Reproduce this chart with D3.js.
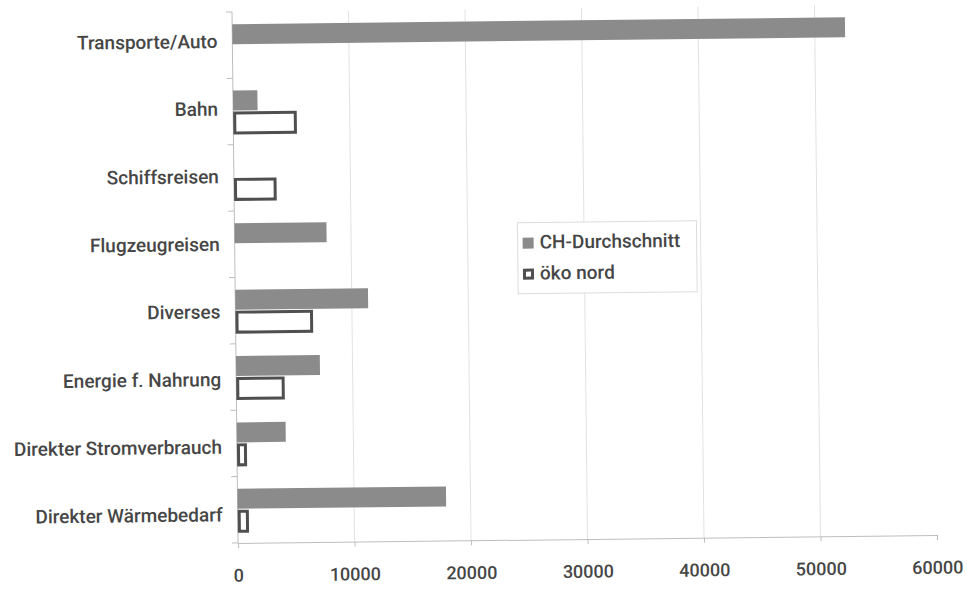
<!DOCTYPE html>
<html>
<head>
<meta charset="utf-8">
<script src="https://cdn.jsdelivr.net/npm/d3@7"></script>
<style>
  html, body { margin: 0; padding: 0; background: #fff; }
  svg { display: block; }
  text { font-family: Roboto, "Liberation Sans", Arial, sans-serif; font-weight: 500; fill: #464646; }
</style>
</head>
<body>
<script>
// ---- data ----
const categories = ["Transporte/Auto", "Bahn", "Schiffsreisen", "Flugzeugreisen", "Diverses", "Energie f. Nahrung", "Direkter Stromverbrauch", "Direkter Wärmebedarf"];
const seriesNames = ["CH-Durchschnitt", "öko nord"];
const chValues = [52600, 2100, 0, 7900, 11400, 7200, 4200, 17900];
const oekoValues = [0, 5200, 3400, 0, 6400, 3900, 600, 700];
const xTickValues = [0, 10000, 20000, 30000, 40000, 50000, 60000];

// ---- layout ----
const W = 967, H = 590;
const plotLeft = 235, plotTop = 8, plotW = 699, plotH = 531;
const grayFill = "#8b8b8b", boxStroke = "#4f4f4f";
const fontFam = "Roboto, 'Liberation Sans', Arial, sans-serif";

const svg = d3.select("body").append("svg").attr("width", W).attr("height", H);
const g = svg.append("g")
  .attr("transform", `rotate(-0.65, ${plotLeft + plotW / 2}, ${plotTop + plotH / 2})`);

const x = d3.scaleLinear().domain([0, 60000]).range([plotLeft, plotLeft + plotW]);
const y = d3.scaleBand().domain(categories).range([plotTop, plotTop + plotH]);
const yLabel = d3.scaleBand().domain(categories).range([plotTop - 4, plotTop + plotH + 6]);

// gridlines
g.append("g").selectAll("line").data(xTickValues.filter(v => v > 0 && v < 60000)).join("line")
  .attr("x1", d => x(d)).attr("x2", d => x(d))
  .attr("y1", plotTop).attr("y2", plotTop + plotH)
  .attr("stroke", "#e2e2e2").attr("stroke-width", 1);

// x axis
const xAxis = d3.axisBottom(x).tickValues(xTickValues).tickSize(5).tickSizeOuter(0).tickFormat(d3.format("d"));
const xg = g.append("g").attr("transform", `translate(0,${plotTop + plotH})`).call(xAxis);
xg.select(".domain").attr("stroke", "#bdbdbd");
xg.selectAll(".tick line").attr("stroke", "#bdbdbd");
xg.selectAll(".tick text").attr("y", 26).attr("font-size", 18).attr("fill", "#464646")
  .attr("font-family", fontFam).attr("font-weight", 500);

// y axis: line plus ticks at band boundaries
g.append("line").attr("x1", plotLeft).attr("x2", plotLeft).attr("y1", plotTop).attr("y2", plotTop + plotH)
  .attr("stroke", "#bdbdbd");
const boundaries = categories.map(c => y(c)).concat([plotTop + plotH]);
g.append("g").selectAll("line").data(boundaries).join("line")
  .attr("x1", plotLeft - 6).attr("x2", plotLeft).attr("y1", d => d).attr("y2", d => d)
  .attr("stroke", "#bdbdbd");

// category labels
g.append("g").selectAll("text").data(categories).join("text")
  .attr("x", plotLeft - 15).attr("y", d => yLabel(d) + yLabel.bandwidth() / 2 + 1)
  .attr("text-anchor", "end").attr("dominant-baseline", "middle")
  .attr("font-size", 19).text(d => d);

// bars
const bh = 20;
g.append("g").selectAll("rect").data(categories.map((c, i) => ({ c, v: chValues[i] })).filter(d => d.v > 0)).join("rect")
  .attr("x", x(0)).attr("y", d => y(d.c) + y.bandwidth() / 2 - bh - 1)
  .attr("width", d => x(d.v) - x(0)).attr("height", bh)
  .attr("fill", grayFill);

g.append("g").selectAll("rect").data(categories.map((c, i) => ({ c, v: oekoValues[i] })).filter(d => d.v > 0)).join("rect")
  .attr("x", x(0) + 1.5).attr("y", d => y(d.c) + y.bandwidth() / 2 + 1.5)
  .attr("width", d => x(d.v) - x(0)).attr("height", bh)
  .attr("fill", "#fff").attr("stroke", boxStroke).attr("stroke-width", 3);

// legend
const lg = g.append("g").attr("transform", "translate(518,222)");
lg.append("rect").attr("width", 179).attr("height", 71).attr("fill", "#fff").attr("stroke", "#dcdcdc");
const items = lg.selectAll("g").data(seriesNames).join("g")
  .attr("transform", (d, i) => `translate(0,${15 + i * 31})`);
items.append("rect").attr("x", d => d === seriesNames[0] ? 5 : 6.5).attr("y", d => d === seriesNames[0] ? 0 : 1.5)
  .attr("width", d => d === seriesNames[0] ? 11 : 8).attr("height", d => d === seriesNames[0] ? 11 : 8)
  .attr("fill", d => d === seriesNames[0] ? grayFill : "#fff")
  .attr("stroke", d => d === seriesNames[0] ? "none" : boxStroke)
  .attr("stroke-width", 3);
items.append("text").attr("x", 22).attr("y", 11).attr("font-size", 19).text(d => d);
</script>
</body>
</html>
